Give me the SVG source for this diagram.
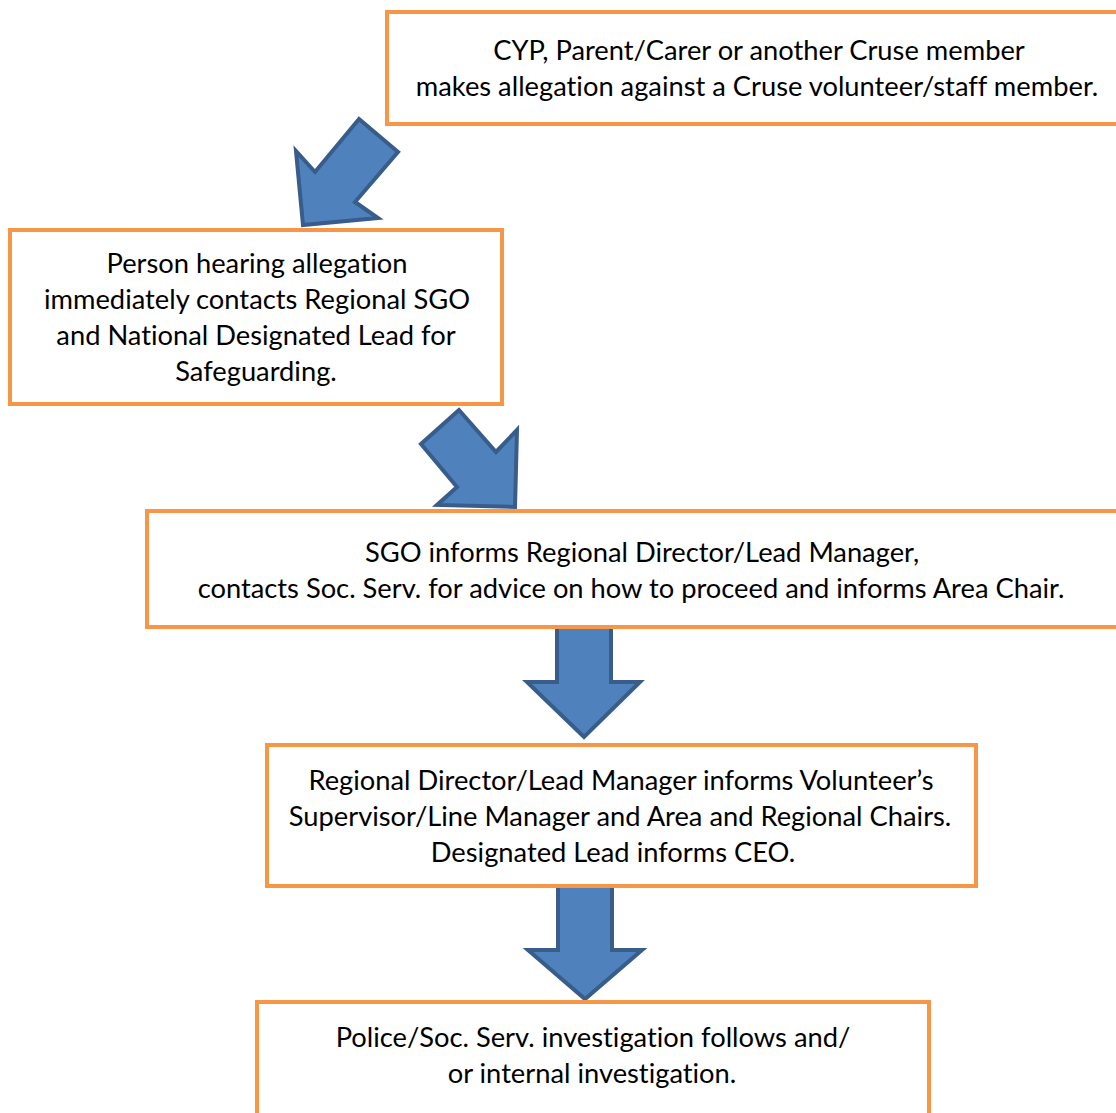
<svg xmlns="http://www.w3.org/2000/svg" width="1116" height="1113" viewBox="0 0 1116 1113">
<style>
.box{fill:#ffffff;stroke:#F79646;stroke-width:4}
.arr{fill:#4F81BD;stroke:#385D8A;stroke-width:4;stroke-linejoin:miter}
text{font-family:Lato,"Liberation Sans",sans-serif;font-size:27.3px;fill:#000000;text-anchor:middle;font-variant-ligatures:none}
</style>
<rect width="1116" height="1113" fill="#ffffff"/>
<g id="connectors">
<polygon class="arr" points="359,119 398,152 355,202 378,218 303,225 296,151 315,172"/>
<polygon class="arr" points="459,410 421,444 457,487 437,505 515,507 517,430 496,452"/>
<polygon class="arr" points="557,625 611,625 611,682 640,682 584,737 527,682 557,682"/>
<polygon class="arr" points="558,885 612,885 612,950 642,950 585,999 528,950 558,950"/>
</g>
<g id="node1">
<rect class="box" x="387" y="12" width="740" height="112"/>
<text x="759" y="60">CYP, Parent/Carer or another Cruse member</text>
<text x="757" y="96">makes allegation against a Cruse volunteer/staff member.</text>
</g>
<g id="node2">
<rect class="box" x="10" y="230" width="492" height="174"/>
<text x="257" y="273">Person hearing allegation</text>
<text x="257" y="309">immediately contacts Regional SGO</text>
<text x="256" y="345">and National Designated Lead for</text>
<text x="256" y="381">Safeguarding.</text>
</g>
<g id="node3">
<rect class="box" x="147" y="511" width="980" height="116"/>
<text x="642" y="562">SGO informs Regional Director/Lead Manager,</text>
<text x="631" y="598">contacts Soc. Serv. for advice on how to proceed and informs Area Chair.</text>
</g>
<g id="node4">
<rect class="box" x="267" y="745" width="709" height="141"/>
<text x="621" y="790">Regional Director/Lead Manager informs Volunteer’s</text>
<text x="620" y="826">Supervisor/Line Manager and Area and Regional Chairs.</text>
<text x="613" y="862">Designated Lead informs CEO.</text>
</g>
<g id="node5">
<rect class="box" x="257" y="1002" width="672" height="130"/>
<text x="593" y="1047">Police/Soc. Serv. investigation follows and/</text>
<text x="592" y="1083">or internal investigation.</text>
</g>
</svg>
